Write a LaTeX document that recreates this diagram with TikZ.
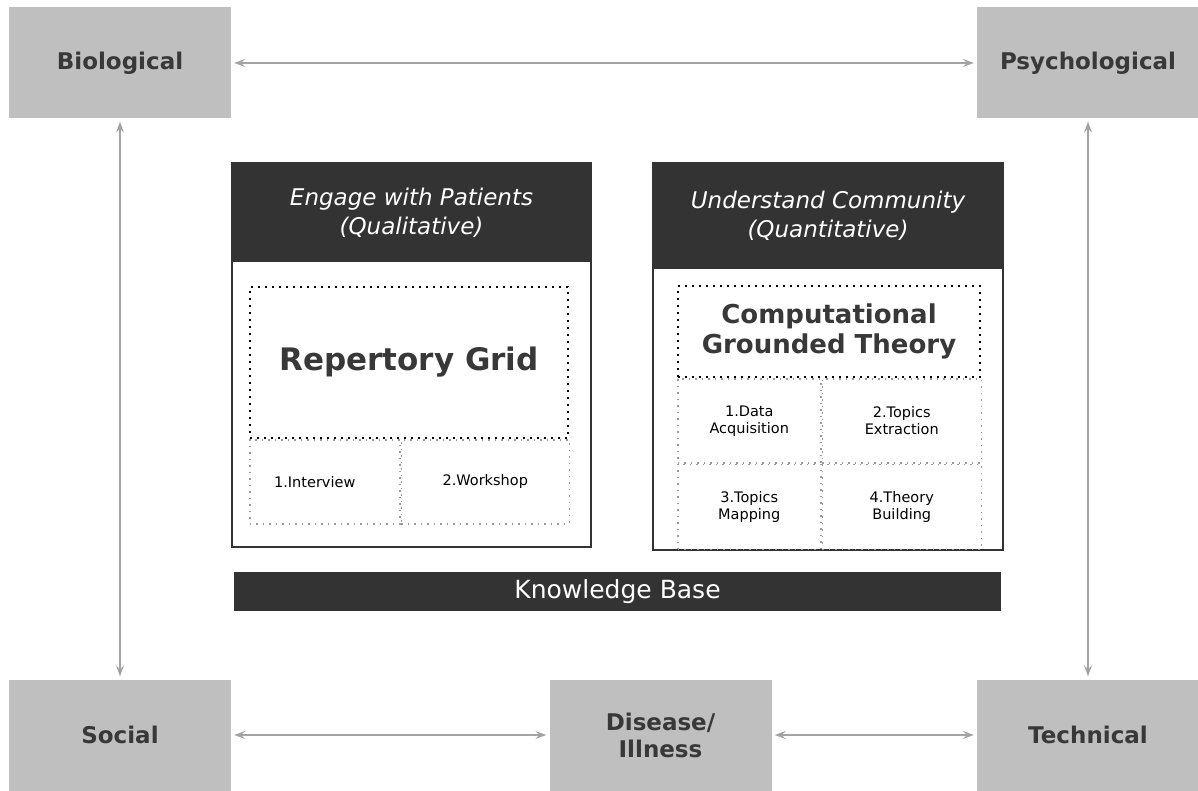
\documentclass[tikz,border=0pt]{standalone}
\usepackage{fontspec}
\setmainfont{DejaVu Sans}
\usetikzlibrary{positioning,arrows.meta}

\definecolor{boxgray}{HTML}{BFBFBF}
\definecolor{darkbar}{HTML}{333333}
\definecolor{labelgray}{HTML}{383838}
\definecolor{arrowgray}{HTML}{A3A3A3}
\definecolor{dotgray}{HTML}{9A9A9A}

\tikzset{
  factor/.style={fill=boxgray, text=labelgray, inner sep=0pt, align=center,
    minimum width=222pt, minimum height=111pt,
    font=\fontsize{23}{27}\selectfont\bfseries},
  link/.style={draw=arrowgray, line width=1.5pt, shorten <=3pt, shorten >=3pt,
    {Stealth[length=11pt,width=8pt,inset=4pt]}-{Stealth[length=11pt,width=8pt,inset=4pt]}},
  panel/.style={draw=darkbar, line width=1.6pt, fill=white, inner sep=0pt},
  header/.style={fill=darkbar, text=white, inner sep=0pt, align=center,
    font=\fontsize{23}{29}\selectfont\itshape},
  method/.style={draw=black, line width=2pt, dash pattern=on 2pt off 5pt,
    inner sep=0pt, align=center, text=labelgray},
  stage/.style={draw=dotgray, line width=1.5pt, dash pattern=on 1.5pt off 5pt,
    inner sep=0pt, align=center, text=black, font=\fontsize{14.5}{17}\selectfont},
  kbase/.style={fill=darkbar, text=white, inner sep=0pt,
    minimum width=767pt, minimum height=39pt, font=\fontsize{25}{28}\selectfont}
}

\begin{document}
\begin{tikzpicture}[x=1pt,y=-1pt]
  \useasboundingbox (0,0) rectangle (1198,791);

  % corner factors
  \node[factor] (bio)  at (120,63)    {Biological};
  \node[factor] (psy)  at (1088,63)   {Psychological};
  \node[factor] (soc)  at (120,735)   {Social};
  \node[factor] (dis)  at (660.5,735) {Disease/\\Illness};
  \node[factor] (tech) at (1088,735)  {Technical};

  \draw[link] (bio) -- (psy);
  \draw[link] (bio) -- (soc);
  \draw[link] (psy) -- (tech);
  \draw[link] (soc) -- (dis);
  \draw[link] (dis) -- (tech);

  % qualitative panel
  \node[panel, minimum width=359pt, minimum height=384pt] (engage) at (411.5,355) {};
  \node[header, minimum width=359pt, minimum height=100pt, below=0pt of engage.north]
    (engagehead) {Engage with Patients\\(Qualitative)};
  \node[stage, minimum width=150pt, minimum height=84pt, anchor=north west]
    (interview) at (249,439) {\hspace*{-20pt}1.Interview};
  \node[stage, minimum width=168pt, minimum height=84pt, right=0pt of interview]
    (workshop) {2.Workshop};
  \node[method, minimum width=318pt, minimum height=151pt, anchor=south west,
    font=\fontsize{31}{36}\selectfont\bfseries] (repgrid) at (interview.north west) {Repertory Grid};

  % quantitative panel
  \node[panel, minimum width=350pt, minimum height=387pt] (community) at (828,356.5) {};
  \node[header, minimum width=350pt, minimum height=107pt, below=0pt of community.north]
    (communityhead) {Understand Community\\(Quantitative)};
  \node[stage, minimum width=143pt, minimum height=84pt, anchor=north west]
    (acquire) at (677,378) {1.Data\\Acquisition};
  \node[stage, minimum width=159pt, minimum height=84pt, right=0pt of acquire]
    (extract) {2.Topics\\Extraction};
  \node[stage, minimum width=143pt, minimum height=85pt, below=0pt of acquire]
    (mapping) {3.Topics\\Mapping};
  \node[stage, minimum width=159pt, minimum height=85pt, below=0pt of extract]
    (building) {4.Theory\\Building};
  \node[method, minimum width=302pt, minimum height=91pt, anchor=south west,
    font=\fontsize{26}{30}\selectfont\bfseries] (cgt) at (acquire.north west)
    {Computational\\Grounded Theory};

  \node[kbase] (knowledge) at (617.5,591.5) {Knowledge Base};
\end{tikzpicture}
\end{document}
